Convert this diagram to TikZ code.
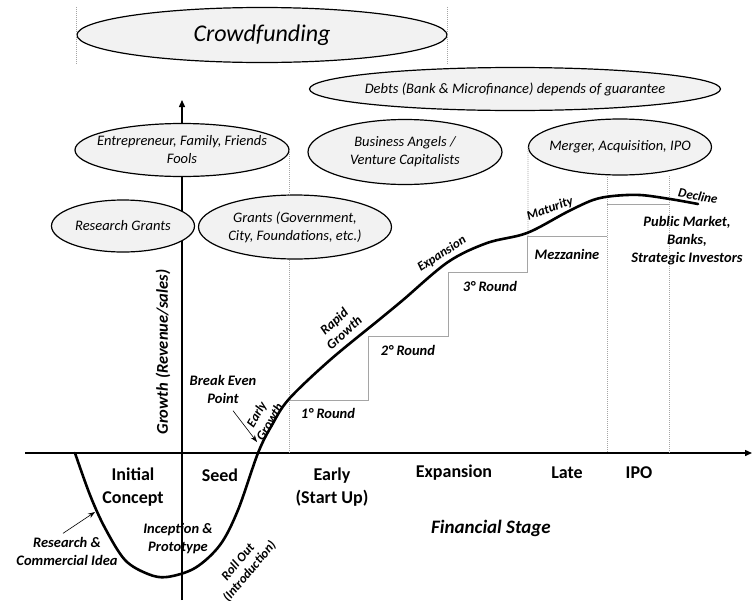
\documentclass[tikz,border=0pt]{standalone}
\usepackage{fontspec}
\setmainfont{Carlito}
\usetikzlibrary{shapes.geometric, arrows.meta}
\definecolor{bubblegray}{RGB}{242,242,242}
\definecolor{stepgray}{RGB}{165,165,165}
\newcommand\bubfont{\fontsize{14.5}{18}\selectfont\itshape}
\newcommand\stagefont{\fontsize{18}{23}\selectfont\bfseries}
\newcommand\notefont{\fontsize{14.5}{18}\selectfont\bfseries\itshape}
\newcommand\curvefont{\fontsize{13}{15}\selectfont\bfseries\itshape}
\tikzset{
  bubble/.style={ellipse, draw=black, line width=1.2pt, fill=bubblegray, inner sep=0pt},
  bubtext/.style={font=\bubfont, align=center},
  stage/.style={font=\stagefont, align=center},
  note/.style={font=\notefont, align=center},
  curvenote/.style={font=\curvefont, align=center, inner sep=1pt},
  guide/.style={stepgray, line width=0.7pt, dash pattern=on 1pt off 1pt},
  stepline/.style={stepgray, line width=1pt},
  axis/.style={line width=1.4pt, -{Triangle[length=7pt,width=6pt]}},
  pointer/.style={line width=0.6pt, -{Stealth[length=7pt,width=5pt]}}
}
\begin{document}
\begin{tikzpicture}[x=1pt, y=-1pt]
\useasboundingbox (0,0) rectangle (752,600);

% axes
\coordinate (origin) at (182,453);
\coordinate (xstart) at (25,453);
\coordinate (xend) at (752,453);
\coordinate (ytop) at (182,100);
\coordinate (ybot) at (182,600);
\draw[axis] (xstart) -- (xend);
\draw[axis] (ybot) -- (ytop);

% funding sources
\node[bubble, minimum width=370, minimum height=55] (crowd) at (262,35) {};
\node[bubtext, font=\fontsize{24}{28}\selectfont\itshape] (crowdtext) at (crowd) {Crowdfunding};
\node[bubble, minimum width=411, minimum height=43] (debts) at (515,89) {};
\node[bubtext, font=\fontsize{14.5}{17}\selectfont\itshape] (debtstext) at (debts) {Debts (Bank \& Microfinance) depends of guarantee};
\node[bubble, minimum width=214, minimum height=53] (family) at (182,150) {};
\node[bubtext] (familytext) at (family) {Entrepreneur, Family, Friends\\Fools};
\node[bubble, minimum width=194, minimum height=65] (angels) at (405,152) {};
\node[bubtext] (angelstext) at (angels) {Business Angels /\\Venture Capitalists};
\node[bubble, minimum width=183, minimum height=56] (merger) at (620,147) {};
\node[bubtext] (mergertext) at (merger) {Merger, Acquisition, IPO};
\node[bubble, minimum width=143, minimum height=52] (research) at (123,226) {};
\node[bubtext] (researchtext) at (research) {Research Grants};
\node[bubble, minimum width=193, minimum height=64] (grants) at (295,227) {};
\node[bubtext] (grantstext) at (grants) {Grants (Government,\\City, Foundations, etc.)};

% guide lines
\draw[guide] (crowd.west |- crowd.north) -- (crowd.west |- crowd.south);
\draw[guide] (crowd.east |- crowd.north) -- (crowd.east |- crowd.south);
\draw[guide] (family.east) -- (family.east |- grants.north);
\draw[guide] (family.east |- grants.south) -- (family.east |- origin);
\draw[guide] (merger.west) -- (528,236);
\draw[guide] (607,175) -- (607,453);
\draw[guide] (669,176) -- (669,453);

% funding rounds
\draw[stepline] (289,400) -- (368,400) -- (368,336) -- (448,336) -- (448,272)
  -- (527,272) -- (527,236) -- (607,236);
\draw[stepline] (607,204) -- (669,204);
\node[note] (round1) at (328,413) {1° Round};
\node[note] (round2) at (408,350) {2° Round};
\node[note] (round3) at (490,286) {3° Round};
\node[note] (mezz) at (567,254) {Mezzanine};
\node[note] (public) at (687,241) {Public Market,\\Banks,\\Strategic Investors};

% life cycle curve
\draw[line width=2.6pt, line cap=round] plot[smooth, tension=0.55] coordinates {
  (75,453) (90,495) (105,528) (125,560) (148,574) (167,577) (195,568) (220,545)
  (238,510) (258,453) (272,425) (289,399) (330,360) (380,319) (403,300) (448,262)
  (487,243) (527,233) (567,212) (593,200) (613,196) (640,195) (670,199) (698,204)};
\node[curvenote, rotate=60] (early) at (263,418) {Early\\Growth};
\node[curvenote, font=\fontsize{13.5}{15}\selectfont\bfseries\itshape, rotate=42] (rapid) at (339,327) {Rapid\\Growth};
\node[curvenote, rotate=33] (expand) at (442,254) {Expansion};
\node[curvenote, rotate=20] (mature) at (550,209) {Maturity};
\node[curvenote, rotate=-11] (decline) at (698,196) {Decline};
\node[curvenote, rotate=50] (rollout) at (244,567) {Roll Out\\(Introduction)};

% notes with arrows
\node[note] (breakeven) at (223,389) {Break Even\\Point};
\coordinate (bep) at (257,442);
\draw[pointer] ([shift={(10,4)}]breakeven.south) -- (bep);
\node[note] (idea) at (67,551) {Research \&\\Commercial Idea};
\coordinate (ideapt) at (95,512);
\draw[pointer] ([shift={(-4,0)}]idea.north) -- (ideapt);
\node[note] (inception) at (178,539) {Inception \&\\Prototype};

% stages
\node[stage] (initial) at (133,487) {Initial\\Concept};
\node[stage] (seed) at (220,475) {Seed};
\node[stage] (startup) at (332,487) {Early\\(Start Up)};
\node[stage] (expansion) at (454,473) {Expansion};
\node[stage] (late) at (567,473) {Late};
\node[stage] (ipo) at (639,473) {IPO};
\node[font=\fontsize{19}{22}\selectfont\bfseries\itshape] (finstage) at (491,528) {Financial Stage};
\node[font=\fontsize{16.5}{19}\selectfont\bfseries\itshape, rotate=90] (growth) at (163,352) {Growth (Revenue/sales)};
\end{tikzpicture}
\end{document}
